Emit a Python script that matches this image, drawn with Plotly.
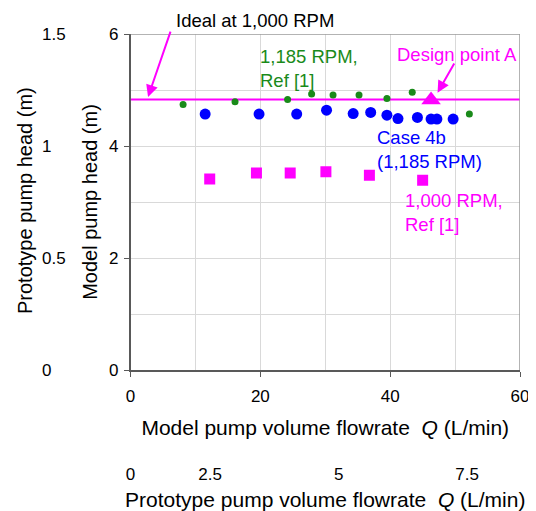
import plotly.graph_objects as go

# Ref [1] at 1,185 RPM (green dots)
ref1185_q = [8.1, 16.1, 24.2, 27.9, 31.2, 35.2, 39.5, 43.4, 52.2]
ref1185_h = [4.74, 4.79, 4.83, 4.93, 4.91, 4.91, 4.85, 4.96, 4.57]

# Case 4b at 1,185 RPM (blue dots)
case4b_q = [11.5, 19.8, 25.6, 30.2, 34.3, 37.0, 39.5, 41.2, 44.2, 46.3, 47.2, 49.7]
case4b_h = [4.57, 4.57, 4.57, 4.64, 4.58, 4.60, 4.55, 4.49, 4.51, 4.48, 4.48, 4.48]

# Ref [1] at 1,000 RPM (magenta squares)
ref1000_q = [12.2, 19.4, 24.6, 30.1, 36.8, 45.0]
ref1000_h = [3.41, 3.52, 3.52, 3.54, 3.48, 3.39]

# ideal line at 1,000 RPM and design point A
ideal_q = [0, 62.5]
ideal_h = [4.83, 4.83]
design_q = [46.3]
design_h = [4.82]

model_x_ticks = [0, 20, 40, 60]
model_y_ticks = [0, 2, 4, 6]
proto_x_ticks = [0.95, 2.5, 5, 7.5]
proto_x_text = ["0", "2.5", "5", "7.5"]
proto_y_ticks = [0, 0.5, 1, 1.5]
proto_y_text = ["0", "0.5", "1", "1.5"]

FONT = "Liberation Sans, Arial, sans-serif"
GREEN = "#1a8a1a"
BLUE = "#0000ff"
MAGENTA = "#ff00ff"
BORDER = "#9a9a9a"

fig = go.Figure()

fig.add_trace(go.Scatter(x=ideal_q, y=ideal_h, mode="lines",
                         line=dict(color=MAGENTA, width=2), cliponaxis=False))
fig.add_trace(go.Scatter(x=ref1185_q, y=ref1185_h, mode="markers",
                         marker=dict(color=GREEN, size=7)))
fig.add_trace(go.Scatter(x=case4b_q, y=case4b_h, mode="markers",
                         marker=dict(color=BLUE, size=11)))
fig.add_trace(go.Scatter(x=ref1000_q, y=ref1000_h, mode="markers",
                         marker=dict(color=MAGENTA, size=11, symbol="square")))
fig.add_trace(go.Scatter(x=design_q, y=design_h, mode="markers",
                         marker=dict(color=MAGENTA, size=17, symbol="triangle-up")))

# invisible traces to carry the prototype axes
fig.add_trace(go.Scatter(x=[proto_x_ticks[0]], y=[None], xaxis="x2", yaxis="y",
                         mode="markers", marker=dict(opacity=0)))
fig.add_trace(go.Scatter(x=[None], y=[proto_y_ticks[0]], xaxis="x", yaxis="y2",
                         mode="markers", marker=dict(opacity=0)))

# the page body has an 8px margin, so the figure is 8px smaller than the window
fig.update_layout(
    width=528, height=503,
    margin=dict(l=2, r=16, t=26, b=2, autoexpand=False),
    paper_bgcolor="white", plot_bgcolor="white",
    showlegend=False,
    font=dict(family=FONT, size=17, color="black"),
    xaxis=dict(
        range=[0, 60], tickvals=model_x_ticks, domain=[0.2363, 1], automargin=False,
        showgrid=True, gridcolor="#d9d9d9", gridwidth=1,
        minor=dict(dtick=10, showgrid=True, gridcolor="#d9d9d9"),
        showline=True, linecolor="#595959", linewidth=1.5,
        ticks="outside", ticklen=5, tickcolor="#595959", ticklabelstandoff=5,
        zeroline=False,
        title=dict(text="Model pump volume flowrate  <i>Q</i> (L/min)",
                   font=dict(size=21), standoff=15),
    ),
    yaxis=dict(
        range=[0, 6], tickvals=model_y_ticks, domain=[0.2926, 1], automargin=False,
        showgrid=True, gridcolor="#d9d9d9",
        minor=dict(dtick=1, showgrid=True, gridcolor="#d9d9d9"),
        showline=True, linecolor="#595959", linewidth=1.5,
        ticks="outside", ticklen=5, tickcolor="#595959", ticklabelstandoff=2,
        zeroline=False,
        title=dict(text="Model pump head (m)", font=dict(size=20), standoff=6),
    ),
    xaxis2=dict(
        range=[0.95, 8.53], overlaying="x", anchor="free", position=0.099,
        side="bottom", domain=[0.2363, 1], automargin=False,
        tickvals=proto_x_ticks, ticktext=proto_x_text,
        showgrid=False, showline=False, ticks="", zeroline=False,
        title=dict(text="Prototype pump volume flowrate  <i>Q</i> (L/min)",
                   font=dict(size=21), standoff=10),
    ),
    yaxis2=dict(
        range=[0, 1.5], overlaying="y", anchor="free", position=0.061, automargin=False,
        side="right", tickvals=proto_y_ticks, ticktext=proto_y_text,
        showgrid=False, showline=False, ticks="", zeroline=False,
    ),
)

# grey frame on the top and right of the plot
fig.add_shape(type="line", xref="x", yref="y", x0=60, x1=60, y0=0, y1=6,
              line=dict(color=BORDER, width=1.5))
fig.add_shape(type="line", xref="x", yref="y", x0=0, x1=60, y0=6, y1=6,
              line=dict(color=BORDER, width=1.5))

fig.add_annotation(text="Prototype pump head (m)", x=0.0294, y=0.6505, textangle=-90,
                   xref="paper", yref="paper", xanchor="center", yanchor="middle",
                   showarrow=False, font=dict(size=20))
fig.add_annotation(text="Ideal at 1,000 RPM", x=0.48, y=1.0547, xref="paper", yref="paper",
                   xanchor="center", yanchor="top", showarrow=False,
                   font=dict(size=18.5))

labels = [
    dict(text="1,185 RPM,<br>Ref [1]", x=19.6, y=5.38, color=GREEN),
    dict(text="Design point A", x=40.8, y=5.63, color=MAGENTA),
    dict(text="Case 4b<br>(1,185 RPM)", x=37.7, y=3.93, color=BLUE),
    dict(text="1,000 RPM,<br>Ref [1]", x=42.0, y=2.82, color=MAGENTA),
]
for lb in labels:
    fig.add_annotation(text=lb["text"], x=lb["x"], y=lb["y"], xref="x", yref="y",
                       xanchor="left", align="left", showarrow=False,
                       font=dict(size=18.5, color=lb["color"]))

# arrows
fig.add_annotation(x=2.7, y=4.875, ax=6.24, ay=6.07, xref="x", yref="y", axref="x", ayref="y",
                   text="", showarrow=True, arrowhead=2, arrowsize=1.2, arrowwidth=2,
                   arrowcolor=MAGENTA)
fig.add_annotation(x=47.3, y=4.95, ax=50.0, ay=5.5, xref="x", yref="y", axref="x", ayref="y",
                   text="", showarrow=True, arrowhead=2, arrowsize=1.2, arrowwidth=2,
                   arrowcolor=MAGENTA)

fig.write_html("out.html")
